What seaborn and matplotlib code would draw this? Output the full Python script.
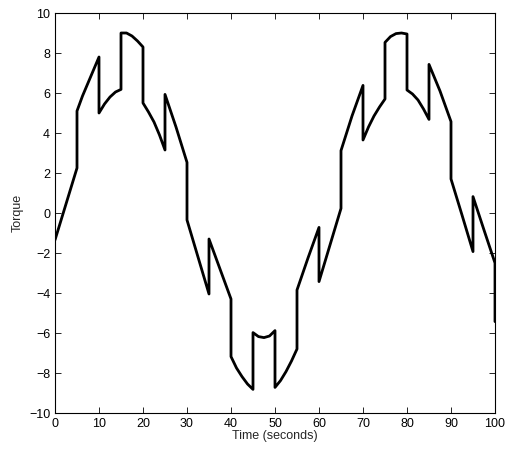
import matplotlib

matplotlib.use("Agg")
import matplotlib.pyplot as plt
import pandas as pd
import seaborn as sns

# values, jumps every 5 s are doubled time points
time_s = [
    0, 2.5, 5,
    5, 6.25, 7.5, 8.75, 10,
    10, 11.25, 12.5, 13.75, 15,
    15, 16.25, 17.5, 18.75, 20,
    20, 21.25, 22.5, 23.75, 25,
    25, 27.5, 30,
    30, 32.5, 35,
    35, 37.5, 40,
    40, 41.25, 42.5, 43.75, 45,
    45, 46.25, 47.5, 48.75, 50,
    50, 51.25, 52.5, 53.75, 55,
    55, 57.5, 60,
    60, 62.5, 65,
    65, 67.5, 70,
    70, 71.25, 72.5, 73.75, 75,
    75, 76.25, 77.5, 78.75, 80,
    80, 81.25, 82.5, 83.75, 85,
    85, 87.5, 90,
    90, 92.5, 95,
    95, 97.5, 100,
    100,
]
torque = [
    -1.35, 0.45, 2.25,
    5.1, 5.85, 6.5, 7.15, 7.8,
    5.0, 5.45, 5.8, 6.05, 6.18,
    9.0, 9.0, 8.85, 8.6, 8.3,
    5.5, 5.05, 4.55, 3.9, 3.15,
    5.93, 4.3, 2.53,
    -0.35, -2.2, -4.05,
    -1.3, -2.8, -4.3,
    -7.18, -7.75, -8.18, -8.55, -8.82,
    -5.98, -6.18, -6.23, -6.15, -5.88,
    -8.72, -8.38, -7.93, -7.4, -6.8,
    -3.85, -2.25, -0.72,
    -3.43, -1.6, 0.23,
    3.12, 4.85, 6.38,
    3.65, 4.3, 4.85, 5.3, 5.7,
    8.53, 8.82, 8.97, 9.0, 8.95,
    6.15, 5.95, 5.65, 5.2, 4.68,
    7.43, 6.1, 4.57,
    1.7, -0.1, -1.93,
    0.82, -0.85, -2.5,
    -5.43,
]


def main() -> None:
    sns.set_theme(style="ticks")
    plt.rcParams["font.family"] = ["Liberation Sans", "DejaVu Sans"]
    plt.rcParams["xtick.direction"] = "in"
    plt.rcParams["ytick.direction"] = "in"

    df = pd.DataFrame({"t": time_s, "torque": torque})

    fig = plt.figure(figsize=(5.06, 4.5), dpi=100)
    ax = fig.add_axes([55 / 506, 1 - 413 / 450, 440 / 506, 400 / 450])
    sns.lineplot(data=df, x="t", y="torque", estimator=None, sort=False,
                 color="black", linewidth=2.0, ax=ax)

    ax.set_xlim(0, 100)
    ax.set_ylim(-10, 10)
    ax.set_xticks(range(0, 101, 10))
    ax.set_yticks(range(-10, 11, 2))
    ax.tick_params(labelsize=9, length=4, width=0.6, top=True, right=True,
                   colors="black", pad=3.5)
    for spine in ax.spines.values():
        spine.set_visible(True)
        spine.set_linewidth(0.8)
        spine.set_color("black")
    ax.set_xlabel("Time (seconds)", fontsize=9, labelpad=0)
    ax.set_ylabel("Torque", fontsize=9, labelpad=4)

    fig.savefig("out.png", dpi=100)
    plt.close(fig)


if __name__ == "__main__":
    main()
